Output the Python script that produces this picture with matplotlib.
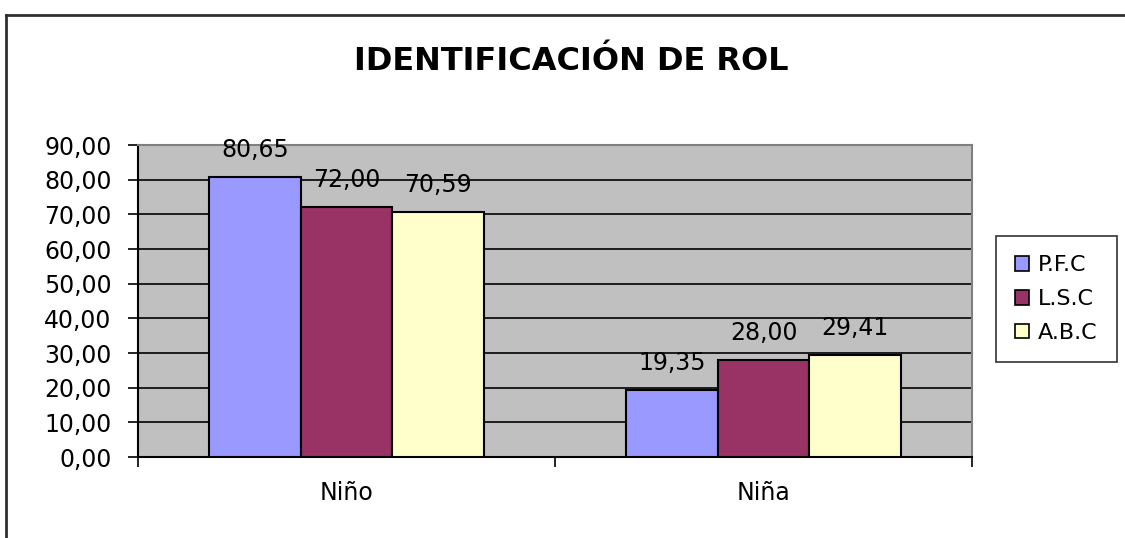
import matplotlib
matplotlib.use("Agg")
import matplotlib.pyplot as plt
import numpy as np
from matplotlib.lines import Line2D
from matplotlib.patches import Patch

categories = ["Niño", "Niña"]
series_names = ["P.F.C", "L.S.C", "A.B.C"]
pfc = [80.65, 19.35]
lsc = [72.00, 28.00]
abc = [70.59, 29.41]
yticks = [0, 10, 20, 30, 40, 50, 60, 70, 80, 90]
title = "IDENTIFICACIÓN DE ROL"

colors = ["#9999FF", "#993366", "#FFFFCC"]

W, H = 1125, 538
fig = plt.figure(figsize=(W / 100, H / 100), dpi=100)
fig.patch.set_facecolor("white")

ax = fig.add_axes([138 / W, 1 - 457 / H, (972 - 138) / W, (457 - 145) / H])
ax.set_facecolor("#C0C0C0")

FS = 17

x = np.arange(len(categories))
bw = 0.22
data = [pfc, lsc, abc]
for i, (vals, c, name) in enumerate(zip(data, colors, series_names)):
    pos = x + (i - 1) * bw
    ax.bar(pos, vals, width=bw, color=c, edgecolor="black", linewidth=1.5,
           label=name, zorder=3)
    for xb, v in zip(pos, vals):
        ax.annotate(f"{v:.2f}".replace(".", ","), (xb, v), xytext=(0, 11),
                    textcoords="offset points", ha="center", va="bottom",
                    fontsize=FS, family="DejaVu Sans", color="black", zorder=4)

ax.set_xlim(-0.5, 1.5)
ax.set_ylim(0, 90)
ax.set_yticks(yticks)
ax.set_yticklabels([f"{t:.2f}".replace(".", ",") for t in yticks],
                   fontsize=FS, family="DejaVu Sans")
ax.yaxis.grid(True, color="black", linewidth=1.2, zorder=1)
ax.set_axisbelow(True)
ax.tick_params(axis="y", direction="out", length=7, width=1.2, pad=12, colors="black")

ax.set_xticks([-0.5, 0.5, 1.5])
ax.set_xticklabels([])
ax.tick_params(axis="x", direction="out", length=7, width=1.2)
for xc, lab in zip(x, categories):
    ax.text(xc, -10.5, lab, ha="center", va="center", fontsize=FS,
            family="DejaVu Sans", transform=ax.transData)

ax.spines["left"].set_color("black")
ax.spines["left"].set_linewidth(1.5)
ax.spines["bottom"].set_color("black")
ax.spines["bottom"].set_linewidth(1.5)
ax.spines["top"].set_color("#808080")
ax.spines["right"].set_color("#808080")
ax.spines["top"].set_linewidth(1.5)
ax.spines["right"].set_linewidth(1.5)

fig.text(571 / W, 1 - 62 / H, title, ha="center", va="center", fontsize=23,
         fontweight="bold", family="DejaVu Sans")

handles = [Patch(facecolor=c, edgecolor="black", linewidth=1.2) for c in colors]
leg = fig.legend(handles, series_names, loc="center left",
                 bbox_to_anchor=(996 / W, 1 - 299 / H), frameon=True,
                 fancybox=False, edgecolor="black",
                 prop={"family": "DejaVu Sans", "size": 16},
                 handlelength=0.65, handleheight=0.65, handletextpad=0.4,
                 labelspacing=0.62, borderpad=0.85, borderaxespad=0)
leg.get_frame().set_linewidth(1.2)

# outer chart border (top and left only)
fig.add_artist(Line2D([6 / W, 6 / W], [0, 1 - 15 / H], color="#303030", linewidth=2,
                      transform=fig.transFigure))
fig.add_artist(Line2D([6 / W, 1], [1 - 15 / H, 1 - 15 / H], color="#303030", linewidth=2,
                      transform=fig.transFigure))

fig.savefig("out.png", dpi=100)
